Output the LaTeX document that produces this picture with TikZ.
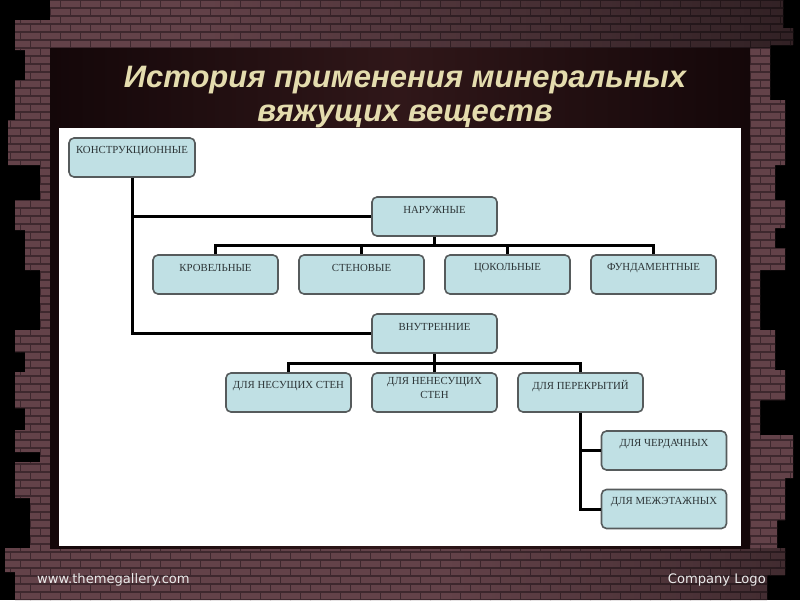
\documentclass[tikz,border=0pt]{standalone}
\usepackage{fontspec}
\usetikzlibrary{fadings}
\setmainfont{Liberation Serif}
\newfontfamily\titlefont{Liberation Sans}
\newfontfamily\footfont{DejaVu Sans}
\definecolor{brick}{HTML}{634249}
\definecolor{mortar}{HTML}{3E282E}
\definecolor{paneldark}{HTML}{140709}
\definecolor{panelmid}{HTML}{301719}
\definecolor{boxfill}{HTML}{C0E0E4}
\definecolor{boxline}{HTML}{565B5C}
\definecolor{boxtext}{HTML}{2C3436}
\definecolor{titlecol}{HTML}{E4DCAE}
\tikzfading[name=fadeleftright, left color=transparent!100, right color=transparent!0]
\tikzset{
  box/.style={draw=boxline, line width=1.6pt, fill=boxfill, rounded corners=5pt,
    minimum width=125pt, minimum height=39pt, inner sep=0pt},
  btext/.style={font=\fontsize{10.8}{13.5}\selectfont, text=boxtext, inner sep=0pt, align=center},
  conn/.style={line width=3pt, draw=black},
  titletext/.style={font=\titlefont\bfseries\itshape\fontsize{31}{34}\selectfont, text=titlecol, inner sep=0pt},
  foottext/.style={font=\footfont\fontsize{13.1}{15}\selectfont, text=white!92!black, inner sep=0pt}
}
\newcommand\mybox[3]{%
  \node[box] (#1) at (#2) {};
  \node[btext] (#1t) at ([yshift=-13.5pt]#1.north) {#3};}
\begin{document}
\begin{tikzpicture}[x=1pt,y=-1pt]
\useasboundingbox (0,0) rectangle (800,600);
\fill[black] (0,0) rectangle (800,600);
% brick wall
\def\brickoutline{(50,0) -- (50,20) -- (15,20) -- (15,50) -- (25,50) -- (25,80) -- (15,80) -- (15,120) -- (8,120) -- (8,165) -- (40,165) -- (40,200) -- (15,200) -- (15,230) -- (25,230) -- (25,270) -- (40,270) -- (40,330) -- (15,330) -- (15,352) -- (25,352) -- (25,372) -- (15,372) -- (15,408) -- (25,408) -- (25,430) -- (15,430) -- (15,452) -- (40,452) -- (40,462) -- (15,462) -- (15,498) -- (30,498) -- (30,548) -- (5,548) -- (5,572) -- (15,572) -- (15,600) -- (767,600) -- (767,575) -- (785,575) -- (785,548) -- (777,548) -- (777,520) -- (785,520) -- (785,478) -- (793,478) -- (793,435) -- (760,435) -- (760,400) -- (785,400) -- (785,370) -- (775,370) -- (775,330) -- (760,330) -- (760,270) -- (785,270) -- (785,248) -- (775,248) -- (775,228) -- (785,228) -- (785,200) -- (775,200) -- (775,165) -- (785,165) -- (785,100) -- (770,100) -- (770,45) -- (793,45) -- (793,28) -- (783,28) -- (783,0) -- cycle}
\begin{scope}
  \clip \brickoutline;
  \fill[brick] (0,0) rectangle (800,600);
  \foreach \r in {0,...,75} {
    \pgfmathsetmacro\yy{\r*8}
    \draw[mortar, line width=1.2pt] (0,\yy) -- (800,\yy);
    \pgfmathsetmacro\off{mod(\r,2)*10}
    \foreach \c in {0,...,40} {
      \draw[mortar, line width=0.9pt] (\c*20+\off,\yy) -- (\c*20+\off,\yy+8);
    }
  }
  \fill[black, fill opacity=0.5, path fading=fadeleftright] (200,0) rectangle (800,48);
  \fill[black, fill opacity=0.35, path fading=fadeleftright] (450,548) rectangle (800,600);
\end{scope}
% dark panel
\shade[left color=paneldark, right color=paneldark, middle color=panelmid] (50,48) rectangle (750,548);
\fill[white] (59,128) rectangle (741,546);
% title
\node[titletext, anchor=base] (t1) at (405,87) {История применения минеральных};
\node[titletext, anchor=base] (t2) at (405,121) {вяжущих веществ};
% footer
\node[foottext, anchor=base west] (f1) at (37,583) {www.themegallery.com};
\node[foottext, anchor=base east] (f2) at (766,583) {Company Logo};
% boxes
\node[box, minimum width=126pt] (kon) at (132,157.5) {};
\node[btext] (kont) at ([yshift=-13.5pt]kon.north) {КОНСТРУКЦИОННЫЕ};
\mybox{nar}{434.5,216.5}{НАРУЖНЫЕ}
\mybox{kr}{215.5,274.5}{КРОВЕЛЬНЫЕ}
\mybox{st}{361.5,274.5}{СТЕНОВЫЕ}
\mybox{ck}{507.5,274.5}{ЦОКОЛЬНЫЕ}
\mybox{fu}{653.5,274.5}{ФУНДАМЕНТНЫЕ}
\mybox{vn}{434.5,333.5}{ВНУТРЕННИЕ}
\mybox{dn}{288.5,392.5}{ДЛЯ НЕСУЩИХ СТЕН}
\node[box] (dnn) at (434.5,392.5) {};
\node[btext, anchor=north] (dnnt) at ([yshift=-5pt]dnn.north) {ДЛЯ НЕНЕСУЩИХ\\СТЕН};
\mybox{dp}{580.5,392.5}{ДЛЯ ПЕРЕКРЫТИЙ}
\mybox{ch}{664,450.5}{ДЛЯ ЧЕРДАЧНЫХ}
\mybox{me}{664,509}{ДЛЯ МЕЖЭТАЖНЫХ}
% connectors
\coordinate (nb) at ([yshift=-9pt]nar.south);
\coordinate (vb) at ([yshift=-10pt]vn.south);
\draw[conn] (kon.south) |- (nar.west);
\draw[conn] (kon.south) |- (vn.west);
\draw[conn] (nar.south) -- (nb);
\draw[conn] (kr.north) |- (nb);
\draw[conn] (st.north) |- (nb);
\draw[conn] (ck.north) |- (nb);
\draw[conn] (fu.north) |- (nb);
\draw[conn] (vn.south) -- (vb);
\draw[conn] (dn.north) |- (vb);
\draw[conn] (dnn.north) -- (vb);
\draw[conn] (dp.north) |- (vb);
\draw[conn] (dp.south) |- (ch.west);
\draw[conn] (dp.south) |- (me.west);
\end{tikzpicture}
\end{document}
